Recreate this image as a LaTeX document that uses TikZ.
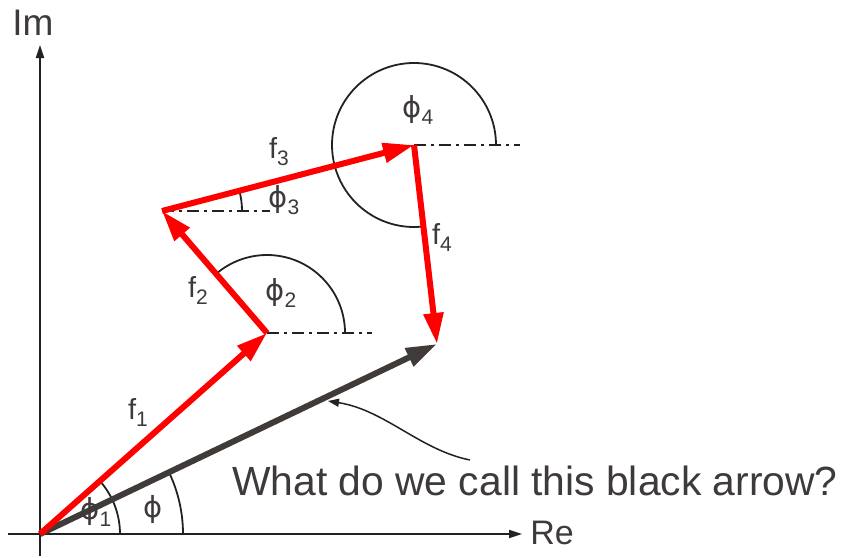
\documentclass[tikz,border=0pt]{standalone}
\usepackage{fontspec}
\setmainfont{Liberation Sans}
\newfontfamily\phifont{DejaVu Sans}
\usetikzlibrary{arrows.meta}
\definecolor{txtgray}{HTML}{3D3A39}
\definecolor{darkarrow}{HTML}{403B39}
\definecolor{linegray}{HTML}{222222}
\newcommand{\lowsub}[1]{\raisebox{-7pt}{\fontsize{21}{21}\selectfont #1}}
\begin{document}
\begin{tikzpicture}[x=1pt,y=-1pt,
  axisline/.style={draw=linegray,line width=1.8pt,-{Triangle[length=13pt,width=8pt]}},
  redvec/.style={draw=red,line width=6pt,-{Triangle[length=31pt,width=19pt]}},
  blackvec/.style={draw=darkarrow,line width=6pt,-{Triangle[length=31pt,width=19pt]}},
  anglearc/.style={draw=linegray,line width=1.8pt},
  refline/.style={draw=linegray,line width=1.8pt,dash pattern=on 12pt off 5pt on 3pt off 5pt},
  annot/.style={draw=linegray,line width=1.5pt,-{Triangle[length=11pt,width=8pt]}},
  lab/.style={text=txtgray,font=\fontsize{29}{29}\selectfont,inner sep=0pt},
  axlab/.style={text=txtgray,inner sep=0pt}]
\useasboundingbox (0,0) rectangle (845,557);
% points
\coordinate (O) at (40,534);
\coordinate (P1) at (267,333);
\coordinate (P2) at (162,211);
\coordinate (P3) at (414,145);
\coordinate (P4) at (437,344);
\coordinate (Ybot) at (40,556);
\coordinate (Ytop) at (40,45);
\coordinate (Xl) at (8,534);
\coordinate (Xr) at (522,534);
\coordinate (R2) at (372,333);
\coordinate (R3) at (270,211);
\coordinate (R4) at (520,145);
\coordinate (Astart) at (470,460);
\coordinate (Aend) at (328,401);
% axes
\draw[axisline] (Ybot) -- (Ytop);
\draw[axisline] (Xl) -- (Xr);
\node[axlab,font=\fontsize{37}{37}\selectfont] (im) at (33,23) {Im};
\node[axlab,font=\fontsize{34}{34}\selectfont] (re) at (552,533) {Re};
% reference lines
\draw[refline] (P1) -- (R2);
\draw[refline] (P2) -- (R3);
\draw[refline] (P3) -- (R4);
% angle arcs
\draw[anglearc] (O) ++(80,0) arc[start angle=0,end angle=41.5,radius=80pt];
\draw[anglearc] (O) ++(143,0) arc[start angle=0,end angle=25.6,radius=143pt];
\draw[anglearc] (P1) ++(78,0) arc[start angle=0,end angle=130.7,radius=78pt];
\draw[anglearc] (P2) ++(80,0) arc[start angle=0,end angle=14.7,radius=80pt];
\draw[anglearc] (P3) ++(82,0) arc[start angle=0,end angle=276.6,radius=82pt];
% vectors
\draw[blackvec] (O) -- (P4);
\draw[redvec] (O) -- (P1);
\draw[redvec] (P1) -- (P2);
\draw[redvec] (P2) -- (P3);
\draw[redvec] (P3) -- (P4);
% annotation
\draw[annot] (Astart) .. controls (420,450) and (385,410) .. (Aend);
\node[text=txtgray,font=\fontsize{40.8}{40.8}\selectfont,inner sep=0pt,anchor=base west] (question) at (232,495) {What do we call this black arrow?};
% labels
\node[lab] (lf1) at (138,412) {f\lowsub{1}};
\node[lab] (lf2) at (198,291) {f\lowsub{2}};
\node[lab] (lf3) at (279,152) {f\lowsub{3}};
\node[lab] (lf4) at (442,238) {f\lowsub{4}};
\node[lab] (lp1) at (96,512) {{\phifont ϕ}\lowsub{1}};
\node[lab] (lp) at (153,509) {\phifont ϕ};
\node[lab] (lp2) at (281,293) {{\phifont ϕ}\lowsub{2}};
\node[lab] (lp3) at (284,200) {{\phifont ϕ}\lowsub{3}};
\node[lab] (lp4) at (418,110) {{\phifont ϕ}\lowsub{4}};
\end{tikzpicture}
\end{document}
